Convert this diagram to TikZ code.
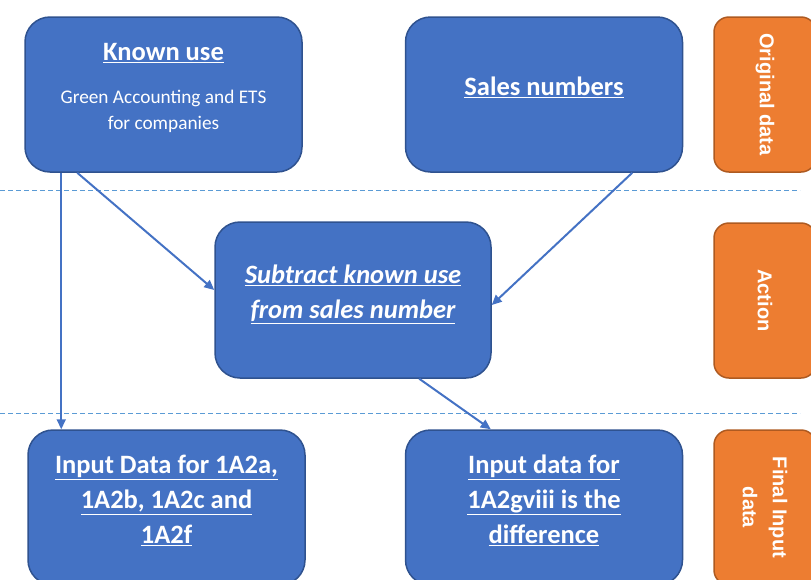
\documentclass[tikz,border=0pt]{standalone}
\usepackage{fontspec}
\setmainfont{Carlito}
\newfontfamily\tagfont{Liberation Sans}
\usepackage{tikz}
\usetikzlibrary{arrows.meta, positioning}
\definecolor{cBlue}{RGB}{68,114,196}
\definecolor{cBlueEdge}{RGB}{47,82,143}
\definecolor{cOrange}{RGB}{237,125,49}
\definecolor{cOrangeEdge}{RGB}{174,90,33}
\definecolor{cSep}{RGB}{91,155,213}
\newcommand{\subline}{\fontsize{19.3}{25}\selectfont\mdseries}
\tikzset{
	box/.style    ={rectangle, rounded corners=25pt, minimum width=277pt, minimum height=155pt, align=center, text depth=16pt, draw=cBlueEdge, line width=1.5pt, fill=cBlue, text=white, font=\fontsize{26.5}{35}\selectfont\bfseries},
	tag/.style    ={rectangle, rounded corners=15pt, rotate=-90, minimum width=155pt, minimum height=102pt, align=center, draw=cOrangeEdge, line width=1.5pt, fill=cOrange, text=white, font=\tagfont\fontsize{20}{30}\selectfont\bfseries},
	flow/.style   ={-{Triangle[length=10pt, width=9pt]}, draw=cBlue, line width=2pt},
	sepline/.style={draw=cSep, dash pattern=on 5pt off 3pt, line width=1pt},
}
\begin{document}
\begin{tikzpicture}[x=1pt, y=-1pt, node distance=99pt]
	\useasboundingbox (0,0) rectangle (811,579);
	\clip (0,0) rectangle (811,579);
	% row separators
	\draw[sepline] (0,190) -- (800,190);
	\draw[sepline] (0,413) -- (800,413);
	% blue boxes
	\node[box] (known) at (163.5,94.5) {\underline{Known use}\\[8pt]\subline Green Accounting and ETS\\[-9pt]\subline for companies};
	\node[box, right=102pt of known] (sales) {\underline{Sales numbers}};
	\node[box, minimum width=276pt, minimum height=156pt] (sub) at (353,300) {\itshape\underline{Subtract known use}\\\itshape\underline{from sales number}};
	\node[box] (inA) at (166.5,507.5) {\underline{Input Data for 1A2a,}\\\underline{1A2b, 1A2c and}\\\underline{1A2f}};
	\node[box, right=of inA] (inB) {\underline{Input data for}\\\underline{1A2gviii is the}\\\underline{difference}};
	% orange row tags
	\node[tag] (orig) at (765,94.5) {Original data};
	\node[tag] (act) at (765,300.5) {Action};
	\node[tag] (fin) at (765,507.5) {Final Input\\data};
	% arrows
	\draw[flow] ([xshift=53pt]known.south west) -- ([yshift=10pt]sub.west);
	\draw[flow] ([xshift=-51pt]sales.south east) -- ([yshift=-5pt]sub.east);
	\draw[flow] ([xshift=37pt]known.south west) -- ([xshift=34pt]inA.north west);
	\draw[flow] ([xshift=205pt]sub.south west) -- ([xshift=86pt]inB.north west);
\end{tikzpicture}
\end{document}
